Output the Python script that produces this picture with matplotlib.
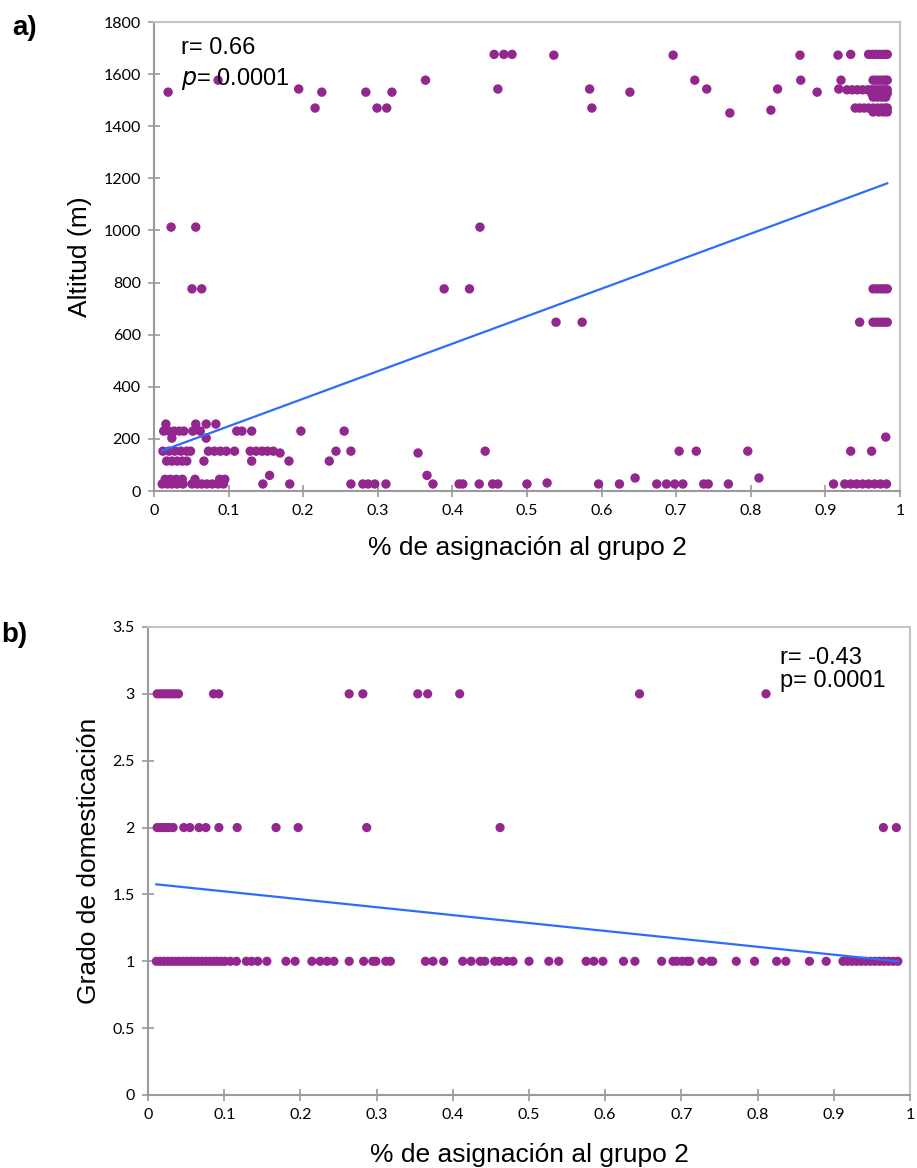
import numpy as np
import matplotlib.pyplot as plt
from matplotlib.ticker import FuncFormatter

# a) altitud frente a % de asignación al grupo 2
asig_a = [
    # banda alta
    0.019, 0.086, 0.194, 0.216, 0.225, 0.284, 0.299, 0.312, 0.319, 0.364,
    0.456, 0.469, 0.480, 0.461, 0.536, 0.584, 0.587, 0.638, 0.696, 0.725,
    0.741, 0.772, 0.827, 0.836, 0.866, 0.867, 0.889, 0.917, 0.921, 0.918, 0.934,
    0.958, 0.963, 0.968, 0.972, 0.976, 0.980, 0.983,
    0.964, 0.968, 0.972, 0.976, 0.980, 0.983,
    0.929, 0.936, 0.943, 0.950, 0.957, 0.962, 0.967, 0.972, 0.976, 0.980, 0.983,
    0.962, 0.967, 0.972, 0.976, 0.980, 0.983,
    0.964, 0.970, 0.976, 0.981,
    0.940, 0.946, 0.952, 0.958, 0.964, 0.970, 0.975, 0.980, 0.983,
    0.964, 0.972, 0.978, 0.983,
    # banda media
    0.023, 0.056, 0.437,
    0.051, 0.064, 0.389, 0.423, 0.964, 0.969, 0.974, 0.979, 0.983,
    0.539, 0.574, 0.946, 0.964, 0.969, 0.974, 0.979, 0.983,
    # banda baja, derecha
    0.981,
    0.934, 0.962, 0.704, 0.727, 0.796, 0.444,
    0.645, 0.811,
    0.527,
    0.500, 0.596, 0.624, 0.674, 0.687, 0.698, 0.709, 0.737, 0.743, 0.770, 0.911,
    0.926, 0.934, 0.942, 0.950, 0.958, 0.966, 0.974, 0.982,
    # banda baja, izquierda
    0.011, 0.018, 0.024, 0.031, 0.039, 0.051, 0.058, 0.064, 0.071, 0.078, 0.086, 0.093,
    0.146, 0.182, 0.264, 0.280, 0.287, 0.296, 0.311, 0.374, 0.409, 0.414, 0.436, 0.454, 0.461,
    0.015, 0.022, 0.030, 0.038, 0.055, 0.088, 0.095,
    0.155, 0.366,
    0.017, 0.024, 0.031, 0.038, 0.044, 0.067, 0.131, 0.181, 0.235,
    0.012, 0.020, 0.028, 0.036, 0.044, 0.049, 0.073, 0.081, 0.089, 0.097, 0.108,
    0.129, 0.137, 0.145, 0.152, 0.160, 0.244, 0.264,
    0.169, 0.354,
    0.024, 0.070,
    0.013, 0.020, 0.027, 0.034, 0.040, 0.052, 0.062, 0.111, 0.118, 0.131, 0.197, 0.255,
    0.016, 0.056, 0.070, 0.083,
]
altitud = (
    [1531, 1577, 1543, 1470, 1531, 1531, 1470, 1470, 1531, 1577,
     1676, 1676, 1676, 1543, 1673, 1543, 1470, 1531, 1673, 1577,
     1543, 1451, 1462, 1543, 1673, 1577, 1531, 1673, 1577, 1543, 1676]
    + [1676] * 7 + [1577] * 6 + [1540] * 11 + [1527] * 6 + [1512] * 4
    + [1470] * 9 + [1455] * 4
    + [1013] * 3
    + [776] * 9
    + [648] * 8
    + [207]
    + [153] * 6
    + [50] * 2
    + [31]
    + [27] * 19
    + [27] * 25
    + [45] * 7
    + [60] * 2
    + [115] * 9
    + [153] * 18
    + [146] * 2
    + [203] * 2
    + [230] * 12
    + [257] * 4
)

# b) grado de domesticación
asig_b = [
    0.012, 0.016, 0.020, 0.024, 0.028, 0.032, 0.036, 0.040, 0.086, 0.093,
    0.264, 0.282, 0.354, 0.367, 0.409, 0.645, 0.811,
    0.012, 0.016, 0.020, 0.024, 0.028, 0.033, 0.047, 0.055, 0.067, 0.076,
    0.093, 0.117, 0.168, 0.197, 0.287, 0.462, 0.965, 0.982,
    0.011, 0.016, 0.021, 0.026, 0.031, 0.036, 0.041, 0.046, 0.051, 0.056,
    0.061, 0.066, 0.071, 0.076, 0.081, 0.086, 0.091, 0.096, 0.101, 0.108, 0.116,
    0.129, 0.136, 0.144, 0.156, 0.181, 0.193, 0.215, 0.226, 0.235, 0.244,
    0.264, 0.283, 0.295, 0.299, 0.312, 0.318, 0.364, 0.374, 0.388, 0.413,
    0.424, 0.436, 0.442, 0.455, 0.461, 0.471, 0.479, 0.500, 0.526, 0.539,
    0.575, 0.585, 0.597, 0.624, 0.639, 0.674, 0.689, 0.694, 0.701, 0.707,
    0.711, 0.727, 0.738, 0.741, 0.772, 0.796, 0.825, 0.837, 0.868, 0.890,
    0.912, 0.918, 0.924, 0.930, 0.936, 0.942, 0.948, 0.954, 0.960, 0.966,
    0.972, 0.978, 0.984,
]
grado = [3] * 17 + [2] * 18 + [1] * (len(asig_b) - 35)

# rectas de regresión (ordenada, pendiente)
recta_a = (143, 1056)
recta_b = (1.582, -0.592)

morado = '#93278F'
azul = '#2F6BFF'
fuente_ticks = 'Lato'
fuente_txt = 'Liberation Sans'

fig = plt.figure(figsize=(9.17, 11.68), dpi=100)
ax1 = fig.add_axes([0.1679, 0.5796, 0.8135, 0.4015])
ax2 = fig.add_axes([0.1614, 0.0625, 0.8310, 0.4007])


def estilo(ax):
    for s in ['left', 'bottom']:
        ax.spines[s].set_color('#9A9A9A')
        ax.spines[s].set_linewidth(1.5)
    for s in ['top', 'right']:
        ax.spines[s].set_color('#C4C4C4')
        ax.spines[s].set_linewidth(1.5)
    ax.tick_params(direction='inout', length=9, width=1.2, color='#9A9A9A',
                   labelsize=11.5, pad=5)
    for lab in ax.get_xticklabels() + ax.get_yticklabels():
        lab.set_fontfamily(fuente_ticks)


# panel a
ax1.scatter(asig_a, altitud, s=46, color=morado, edgecolors='none', zorder=3)
xa = np.array([min(asig_a), max(asig_a)])
ax1.plot(xa, recta_a[0] + recta_a[1] * xa, color=azul, lw=1.6, zorder=4)
ax1.set_xlim(0, 1)
ax1.set_ylim(0, 1800)
ax1.set_xticks(np.arange(0, 1.01, 0.1))
ax1.set_yticks(np.arange(0, 1801, 200))
ax1.xaxis.set_major_formatter(FuncFormatter(lambda v, p: '%g' % round(v, 1)))
estilo(ax1)
ax1.set_xlabel('% de asignación al grupo 2', fontsize=19, family=fuente_txt, labelpad=13)
ax1.set_ylabel('Altitud (m)', fontsize=19, family=fuente_txt, labelpad=8)
ax1.text(0.036, 0.968, 'r= 0.66', transform=ax1.transAxes, fontsize=17,
         family=fuente_txt, va='top')
ax1.text(0.036, 0.906, r'$\it{p}$= 0.0001', transform=ax1.transAxes, fontsize=17,
         family=fuente_txt, va='top')

# panel b
ax2.scatter(asig_b, grado, s=44, color=morado, edgecolors='none', zorder=3)
xb = np.array([min(asig_b), max(asig_b)])
ax2.plot(xb, recta_b[0] + recta_b[1] * xb, color=azul, lw=1.6, zorder=4)
ax2.set_xlim(0, 1)
ax2.set_ylim(0, 3.5)
ax2.set_xticks(np.arange(0, 1.01, 0.1))
ax2.set_yticks(np.arange(0, 3.51, 0.5))
ax2.xaxis.set_major_formatter(FuncFormatter(lambda v, p: '%g' % round(v, 1)))
ax2.yaxis.set_major_formatter(FuncFormatter(lambda v, p: '%g' % v))
estilo(ax2)
ax2.set_xlabel('% de asignación al grupo 2', fontsize=19, family=fuente_txt, labelpad=15)
ax2.set_ylabel('Grado de domesticación', fontsize=19, family=fuente_txt, labelpad=8)
ax2.text(0.83, 0.958, 'r= -0.43\np= 0.0001', transform=ax2.transAxes, fontsize=17,
         family=fuente_txt, va='top', linespacing=1.1)

fig.text(0.013, 0.976, 'a)', fontsize=20, fontweight='bold', family=fuente_txt, va='center')
fig.text(0.001, 0.456, 'b)', fontsize=20, fontweight='bold', family=fuente_txt, va='center')

fig.savefig('out.png', dpi=100)
